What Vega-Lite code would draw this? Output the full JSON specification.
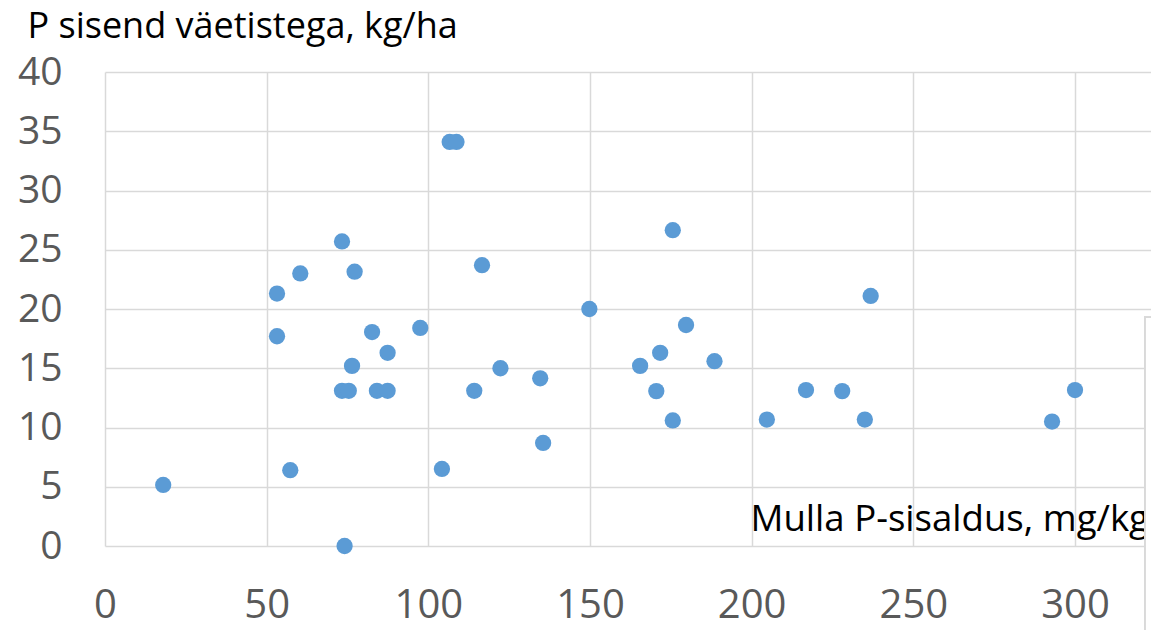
{
  "$schema": "https://vega.github.io/schema/vega-lite/v6.json",
  "autosize": {"type": "none"},
  "padding": {"left": 105, "top": 72, "right": 0, "bottom": 84},
  "width": 1046,
  "height": 474,
  "background": "white",
  "config": {"view": {"stroke": null}, "font": "Open Sans"},
  "data": {"values": [
    {"x": 18.0, "y": 5.15}, {"x": 53.2, "y": 21.3}, {"x": 53.2, "y": 17.7}, {"x": 57.3, "y": 6.4},
    {"x": 60.4, "y": 23.0}, {"x": 73.3, "y": 25.7}, {"x": 73.3, "y": 13.1}, {"x": 75.4, "y": 13.1},
    {"x": 74.1, "y": 0}, {"x": 76.4, "y": 15.2}, {"x": 77.2, "y": 23.15}, {"x": 82.6, "y": 18.05},
    {"x": 84.1, "y": 13.1}, {"x": 87.4, "y": 13.1}, {"x": 87.4, "y": 16.3}, {"x": 97.5, "y": 18.4},
    {"x": 104.2, "y": 6.5}, {"x": 106.6, "y": 34.1}, {"x": 108.7, "y": 34.1}, {"x": 114.2, "y": 13.1},
    {"x": 116.6, "y": 23.7}, {"x": 122.3, "y": 15.0}, {"x": 134.6, "y": 14.15}, {"x": 135.5, "y": 8.7},
    {"x": 149.8, "y": 20.0}, {"x": 165.5, "y": 15.2}, {"x": 170.5, "y": 13.07}, {"x": 171.7, "y": 16.3},
    {"x": 175.6, "y": 26.65}, {"x": 175.6, "y": 10.6}, {"x": 179.7, "y": 18.65}, {"x": 188.5, "y": 15.6},
    {"x": 204.7, "y": 10.67}, {"x": 216.8, "y": 13.16}, {"x": 228.0, "y": 13.07}, {"x": 235.0, "y": 10.67},
    {"x": 236.8, "y": 21.1}, {"x": 292.9, "y": 10.5}, {"x": 300.0, "y": 13.16}
  ]},
  "layer": [
    {
      "mark": {"type": "circle", "color": "#5B9BD5", "opacity": 1, "size": 265, "clip": false},
      "encoding": {
        "x": {
          "field": "x", "type": "quantitative",
          "scale": {"domain": [0, 323.5], "nice": false, "zero": false},
          "axis": {
            "values": [0, 50, 100, 150, 200, 250, 300],
            "domain": false, "ticks": false,
            "grid": true, "gridColor": "#D9D9D9", "gridWidth": 1.5,
            "labelFont": "Open Sans", "labelFontSize": 40, "labelColor": "#595959",
            "labelBaseline": "middle", "labelPadding": 59, "labelFlush": false, "labelOverlap": false,
            "title": "Mulla P-sisaldus, mg/kg",
            "titleFont": "Open Sans", "titleFontSize": 36.6, "titleFontWeight": "normal", "titleColor": "#000000",
            "titleAlign": "left", "titleBaseline": "alphabetic", "titleAnchor": null,
            "titleX": 645, "titleY": -16
          }
        },
        "y": {
          "field": "y", "type": "quantitative",
          "scale": {"domain": [0, 40], "nice": false},
          "axis": {
            "values": [0, 5, 10, 15, 20, 25, 30, 35, 40],
            "domain": false, "ticks": false,
            "grid": true, "gridColor": "#D9D9D9", "gridWidth": 1.5,
            "labelFont": "Open Sans", "labelFontSize": 39, "labelColor": "#595959",
            "labelPadding": 43, "labelFlush": false, "labelOverlap": false, "labelBaseline": "middle",
            "title": "P sisend väetistega, kg/ha",
            "titleFont": "Open Sans", "titleFontSize": 36, "titleFontWeight": "normal", "titleColor": "#000000",
            "titleAngle": 0, "titleAlign": "left", "titleBaseline": "alphabetic", "titleAnchor": null,
            "titleX": -78, "titleY": -35
          }
        }
      }
    },
    {
      "mark": {"type": "rect", "fill": "white", "stroke": "#D9D9D9", "strokeWidth": 1.5, "clip": false},
      "encoding": {
        "x": {"datum": 321.7, "type": "quantitative"},
        "x2": {"datum": 335},
        "y": {"datum": 19.3, "type": "quantitative"},
        "y2": {"datum": -9}
      }
    }
  ]
}
